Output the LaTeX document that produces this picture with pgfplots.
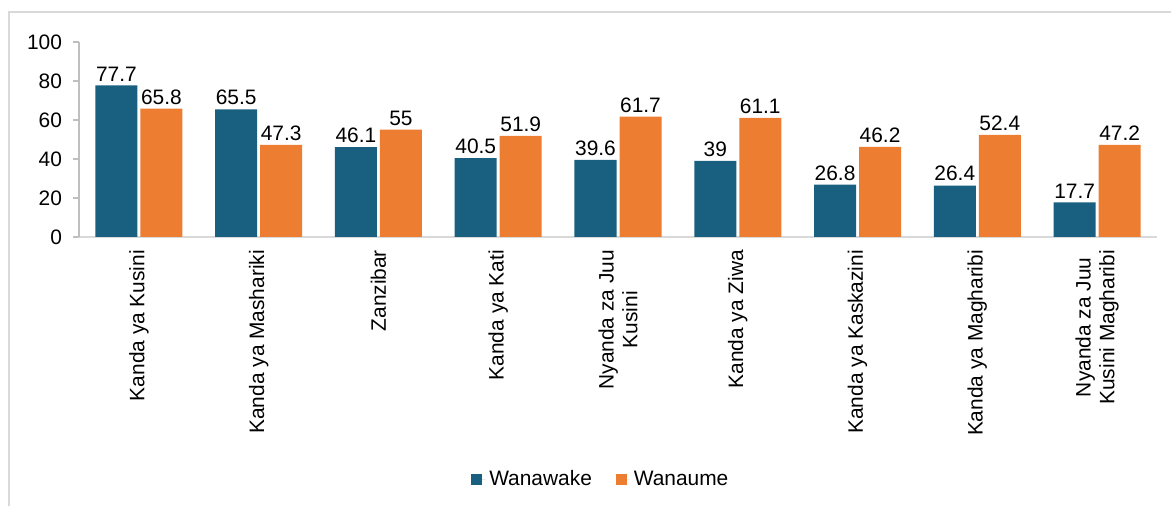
\documentclass[border=0pt]{standalone}
\usepackage{fontspec}
\setmainfont{Liberation Sans}
\usepackage{pgfplots}
\pgfplotsset{compat=1.18}
\definecolor{wblue}{HTML}{185F80}
\definecolor{worange}{HTML}{ED7D31}
\definecolor{frame}{HTML}{D9D9D9}

\begin{document}
\begin{tikzpicture}[font=\fontsize{10.45}{11.8}\selectfont]
\useasboundingbox (0,0) rectangle (585.5pt,253pt);
% outer chart frame (only top and left edges fall inside the picture)
\draw[line width=0.75pt, frame] (4.5pt,0) -- (4.5pt,247pt) -- (585.5pt,247pt);
\begin{axis}[
    at={(39.5pt,134.5pt)}, anchor=south west,
    scale only axis, width=539pt, height=97.5pt,
    xmin=-0.5, xmax=8.5, ymin=0, ymax=100,
    ybar=1.5pt, bar width=21pt,
    axis x line*=bottom, axis y line*=left,
    x axis line style={draw=gray!30, line width=0.75pt},
    y axis line style={draw=gray!50, line width=0.75pt},
    ytick={0,20,...,100}, tick align=outside, major tick length=3pt,
    ytick style={draw=gray!50, line width=0.6pt},
    xtick={0,...,8}, xtick style={draw=none},
    xticklabels={Kanda ya Kusini, Kanda ya Mashariki, Zanzibar, Kanda ya Kati,
                 Nyanda za Juu\\Kusini, Kanda ya Ziwa, Kanda ya Kaskazini,
                 Kanda ya Magharibi, Nyanda za Juu\\Kusini Magharibi},
    xticklabel style={rotate=90, anchor=east, align=center},
    yticklabel style={xshift=-2pt},
    /pgf/number format/assume math mode=true,
    nodes near coords, point meta=explicit symbolic,
    every node near coord/.append style={inner sep=2pt, text=black},
    legend columns=2,
    legend style={at={(0.485,-1.245)}, anchor=center, draw=none, fill=none,
                  /tikz/every even column/.append style={column sep=10pt}},
    legend image code/.code={\fill[#1] (0pt,-2.75pt) rectangle (5.5pt,2.75pt);
                             \path (0pt,0pt) -- (7pt,0pt);},
]
\addplot[fill=wblue, draw=none] coordinates {
    (0,77.7)[77.7] (1,65.5)[65.5] (2,46.1)[46.1] (3,40.5)[40.5] (4,39.6)[39.6]
    (5,39)[39] (6,26.8)[26.8] (7,26.4)[26.4] (8,17.7)[17.7]};
\addplot[fill=worange, draw=none] coordinates {
    (0,65.8)[65.8] (1,47.3)[47.3] (2,55)[55] (3,51.9)[51.9] (4,61.7)[61.7]
    (5,61.1)[61.1] (6,46.2)[46.2] (7,52.4)[52.4] (8,47.2)[47.2]};
\legend{Wanawake, Wanaume}
\end{axis}
\end{tikzpicture}
\end{document}
